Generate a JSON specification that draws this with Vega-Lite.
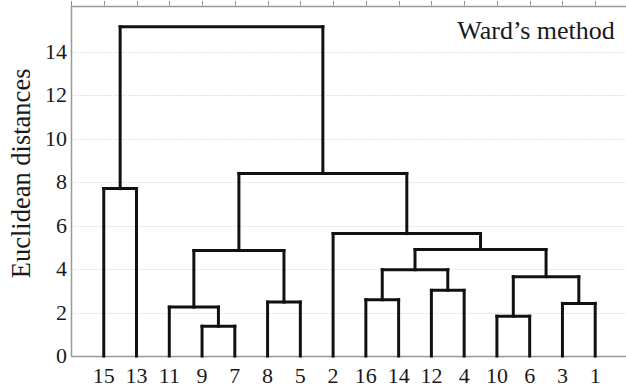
{
  "$schema": "https://vega.github.io/schema/vega-lite/v6.json",
  "autosize": "none",
  "width": 555,
  "height": 350,
  "padding": {"left": 71, "top": 6, "right": 0, "bottom": 32},
  "background": "white",
  "config": {"view": {"stroke": null}},
  "datasets": {
    "segs": [
      {"x": 1, "x2": 1, "y": 0, "y2": 7.7},
      {"x": 2, "x2": 2, "y": 0, "y2": 7.7},
      {"x": 1, "x2": 2, "y": 7.7, "y2": 7.7},
      {"x": 4, "x2": 4, "y": 0, "y2": 1.37},
      {"x": 5, "x2": 5, "y": 0, "y2": 1.37},
      {"x": 4, "x2": 5, "y": 1.37, "y2": 1.37},
      {"x": 3, "x2": 3, "y": 0, "y2": 2.25},
      {"x": 4.5, "x2": 4.5, "y": 1.37, "y2": 2.25},
      {"x": 3, "x2": 4.5, "y": 2.25, "y2": 2.25},
      {"x": 6, "x2": 6, "y": 0, "y2": 2.48},
      {"x": 7, "x2": 7, "y": 0, "y2": 2.48},
      {"x": 6, "x2": 7, "y": 2.48, "y2": 2.48},
      {"x": 3.75, "x2": 3.75, "y": 2.25, "y2": 4.85},
      {"x": 6.5, "x2": 6.5, "y": 2.48, "y2": 4.85},
      {"x": 3.75, "x2": 6.5, "y": 4.85, "y2": 4.85},
      {"x": 9, "x2": 9, "y": 0, "y2": 2.59},
      {"x": 10, "x2": 10, "y": 0, "y2": 2.59},
      {"x": 9, "x2": 10, "y": 2.59, "y2": 2.59},
      {"x": 11, "x2": 11, "y": 0, "y2": 3.02},
      {"x": 12, "x2": 12, "y": 0, "y2": 3.02},
      {"x": 11, "x2": 12, "y": 3.02, "y2": 3.02},
      {"x": 9.5, "x2": 9.5, "y": 2.59, "y2": 3.97},
      {"x": 11.5, "x2": 11.5, "y": 3.02, "y2": 3.97},
      {"x": 9.5, "x2": 11.5, "y": 3.97, "y2": 3.97},
      {"x": 13, "x2": 13, "y": 0, "y2": 1.83},
      {"x": 14, "x2": 14, "y": 0, "y2": 1.83},
      {"x": 13, "x2": 14, "y": 1.83, "y2": 1.83},
      {"x": 15, "x2": 15, "y": 0, "y2": 2.42},
      {"x": 16, "x2": 16, "y": 0, "y2": 2.42},
      {"x": 15, "x2": 16, "y": 2.42, "y2": 2.42},
      {"x": 13.5, "x2": 13.5, "y": 1.83, "y2": 3.65},
      {"x": 15.5, "x2": 15.5, "y": 2.42, "y2": 3.65},
      {"x": 13.5, "x2": 15.5, "y": 3.65, "y2": 3.65},
      {"x": 10.5, "x2": 10.5, "y": 3.97, "y2": 4.9},
      {"x": 14.5, "x2": 14.5, "y": 3.65, "y2": 4.9},
      {"x": 10.5, "x2": 14.5, "y": 4.9, "y2": 4.9},
      {"x": 8, "x2": 8, "y": 0, "y2": 5.63},
      {"x": 12.5, "x2": 12.5, "y": 4.9, "y2": 5.63},
      {"x": 8, "x2": 12.5, "y": 5.63, "y2": 5.63},
      {"x": 5.125, "x2": 5.125, "y": 4.85, "y2": 8.4},
      {"x": 10.25, "x2": 10.25, "y": 5.63, "y2": 8.4},
      {"x": 5.125, "x2": 10.25, "y": 8.4, "y2": 8.4},
      {"x": 1.5, "x2": 1.5, "y": 7.7, "y2": 15.15},
      {"x": 7.6875, "x2": 7.6875, "y": 8.4, "y2": 15.15},
      {"x": 1.5, "x2": 7.6875, "y": 15.15, "y2": 15.15}
    ],
    "leaves": [
      {"pos": 1, "leaf": "15"}, {"pos": 2, "leaf": "13"}, {"pos": 3, "leaf": "11"}, {"pos": 4, "leaf": "9"},
      {"pos": 5, "leaf": "7"}, {"pos": 6, "leaf": "8"}, {"pos": 7, "leaf": "5"}, {"pos": 8, "leaf": "2"},
      {"pos": 9, "leaf": "16"}, {"pos": 10, "leaf": "14"}, {"pos": 11, "leaf": "12"}, {"pos": 12, "leaf": "4"},
      {"pos": 13, "leaf": "10"}, {"pos": 14, "leaf": "6"}, {"pos": 15, "leaf": "3"}, {"pos": 16, "leaf": "1"}
    ],
    "yticks": [
      {"v": 0}, {"v": 2}, {"v": 4}, {"v": 6}, {"v": 8}, {"v": 10}, {"v": 12}, {"v": 14}
    ],
    "ytitle": [{"label": "Euclidean distances"}],
    "note": [{"x": 16.6, "y": 14.58, "label": "Ward’s method"}]
  },
  "resolve": {"axis": {"x": "independent"}},
  "layer": [
    {
      "data": {"name": "segs"},
      "mark": {"type": "rule", "color": "#111", "strokeWidth": 3, "strokeCap": "square"},
      "encoding": {
        "x": {
          "field": "x", "type": "quantitative",
          "scale": {"domain": [0, 16.94], "nice": false, "zero": false},
          "axis": {
            "orient": "bottom", "title": null, "labels": false,
            "grid": false, "ticks": false,
            "domainColor": "#999", "domainWidth": 1.5
          }
        },
        "x2": {"field": "x2"},
        "y": {
          "field": "y", "type": "quantitative",
          "scale": {"domain": [0, 16.1], "nice": false},
          "axis": {
            "title": null, "labels": false,
            "values": [0,2,4,6,8,10,12,14],
            "grid": true, "gridColor": "#c8c8c8", "gridDash": [1, 2], "gridWidth": 1,
            "ticks": false, "domainColor": "#999", "domainWidth": 1.5
          }
        },
        "y2": {"field": "y2"}
      }
    },
    {
      "data": {"name": "leaves"},
      "mark": {"type": "text", "align": "center", "baseline": "top", "font": "Liberation Serif", "fontSize": 22, "color": "#1a1a1a"},
      "encoding": {
        "x": {"field": "pos", "type": "quantitative"},
        "y": {"datum": -0.45},
        "text": {"field": "leaf"}
      }
    },
    {
      "data": {"name": "yticks"},
      "mark": {"type": "text", "align": "right", "baseline": "middle", "font": "Liberation Serif", "fontSize": 22, "color": "#1a1a1a"},
      "encoding": {
        "x": {"datum": -0.12},
        "y": {"field": "v", "type": "quantitative"},
        "text": {"field": "v", "type": "quantitative"}
      }
    },
    {
      "data": {"name": "ytitle"},
      "mark": {"type": "text", "align": "center", "baseline": "middle", "angle": 270, "font": "Liberation Serif", "fontSize": 26.5, "color": "#1a1a1a"},
      "encoding": {
        "x": {"datum": -1.5},
        "y": {"datum": 8.4},
        "text": {"field": "label"}
      }
    },
    {
      "data": {"name": "note"},
      "mark": {"type": "text", "align": "right", "baseline": "alphabetic", "font": "Liberation Serif", "fontSize": 26, "color": "#1a1a1a"},
      "encoding": {
        "x": {
          "field": "x", "type": "quantitative",
          "axis": {
            "orient": "top", "title": null, "labels": false, "grid": false,
            "values": [1,2,3,4,5,6,7,8,9,10,11,12,13,14,15,16],
            "tickSize": 3, "tickColor": "#aaa", "domainColor": "#999", "domainWidth": 1.5
          }
        },
        "y": {"field": "y", "type": "quantitative"},
        "text": {"field": "label"}
      }
    }
  ]
}
